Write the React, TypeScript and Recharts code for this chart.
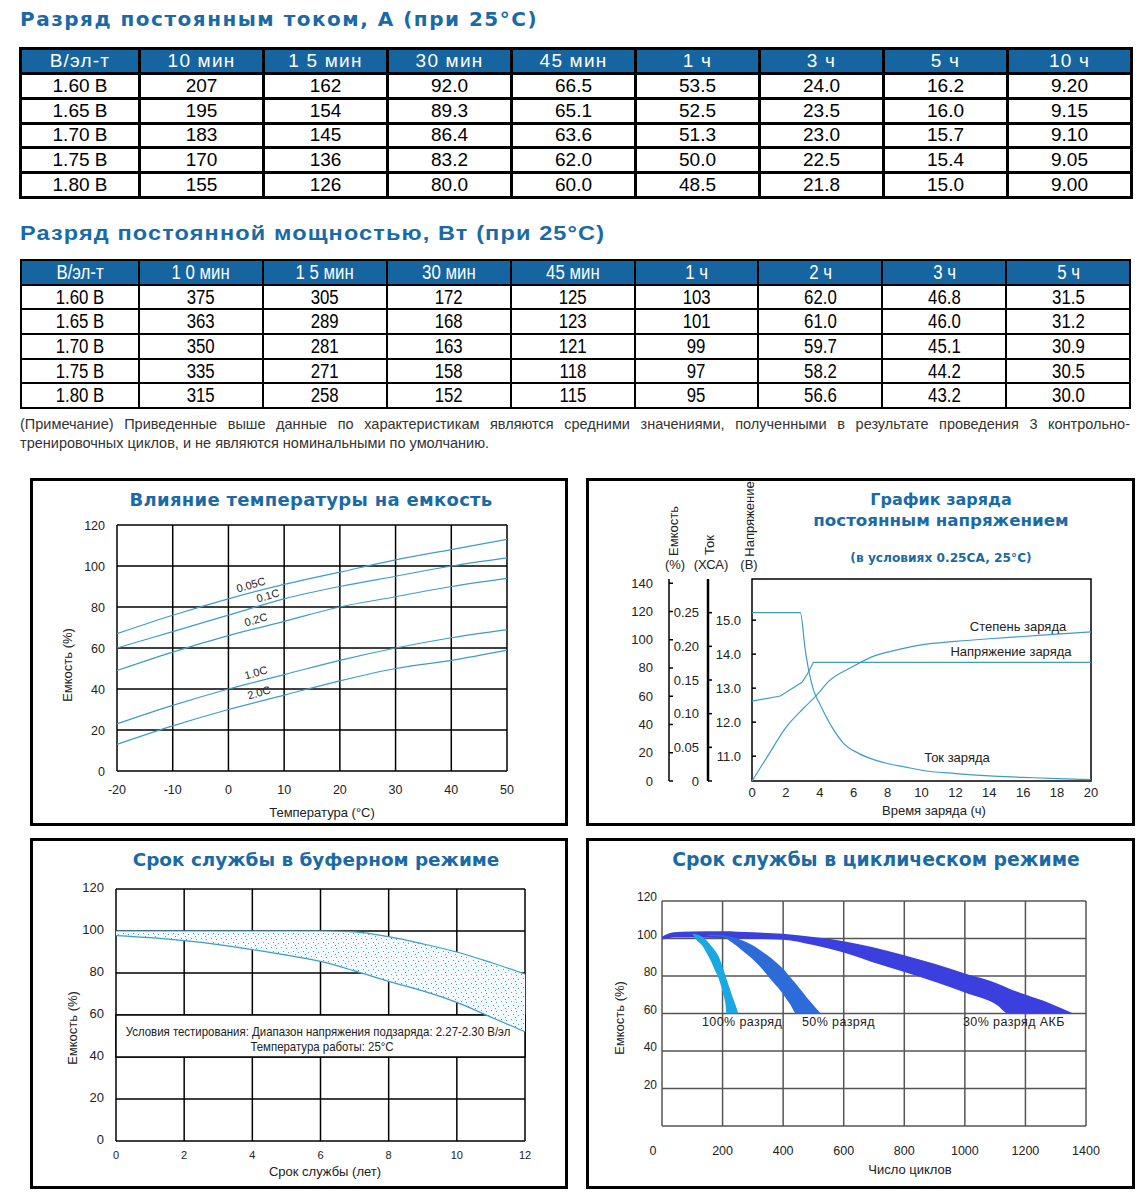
import React from "react";
import {
	Area,
	CartesianGrid,
	ComposedChart,
	Line,
	LineChart,
	ReferenceArea,
	XAxis,
	YAxis,
} from "recharts";

const BLUE = "#1a6aa6";
const HEAD = "#1664a0";
const CURVE = "#3d9dc8";
const SANS = '"Liberation Sans", Arial, sans-serif';
const WIDE = '"DejaVu Sans", sans-serif';

// ---- tables ----
const currentHead = ["В/эл-т", "10 мин", "1 5 мин", "30 мин", "45 мин", "1 ч", "3 ч", "5 ч", "10 ч"];
const powerHead = ["В/эл-т", "1 0 мин", "1 5 мин", "30 мин", "45 мин", "1 ч", "2 ч", "3 ч", "5 ч"];
const cellVolts = ["1.60 В", "1.65 В", "1.70 В", "1.75 В", "1.80 В"];
const currentRows = [
	["207", "162", "92.0", "66.5", "53.5", "24.0", "16.2", "9.20"],
	["195", "154", "89.3", "65.1", "52.5", "23.5", "16.0", "9.15"],
	["183", "145", "86.4", "63.6", "51.3", "23.0", "15.7", "9.10"],
	["170", "136", "83.2", "62.0", "50.0", "22.5", "15.4", "9.05"],
	["155", "126", "80.0", "60.0", "48.5", "21.8", "15.0", "9.00"],
];
const powerRows = [
	["375", "305", "172", "125", "103", "62.0", "46.8", "31.5"],
	["363", "289", "168", "123", "101", "61.0", "46.0", "31.2"],
	["350", "281", "163", "121", "99", "59.7", "45.1", "30.9"],
	["335", "271", "158", "118", "97", "58.2", "44.2", "30.5"],
	["315", "258", "152", "115", "95", "56.6", "43.2", "30.0"],
];

// ---- chart 1: temperature vs capacity ----
const tempX = [-20, -10, 0, 10, 20, 30, 40, 50];
const cap005 = [67, 76, 84, 91, 97, 103, 108, 113];
const cap01 = [60, 68, 76, 84, 90, 95, 100, 104];
const cap02 = [49, 58, 66, 73, 80, 85, 90, 94];
const cap10 = [23, 32, 40, 47, 54, 60, 65, 69];
const cap20 = [13, 22, 30, 37, 44, 50, 54, 59];
const capTicks = [0, 20, 40, 60, 80, 100, 120];

// ---- chart 2: constant voltage charge ----
const hourTicks = [0, 2, 4, 6, 8, 10, 12, 14, 16, 18, 20];
const curT = [0, 2.85, 3.14, 3.34, 3.63, 4.03, 4.72, 5.4, 6.29, 7.27, 8, 9, 10, 12, 14, 16, 18, 20];
const curA = [0.25, 0.25, 0.195, 0.165, 0.135, 0.113, 0.08, 0.056, 0.041, 0.031, 0.026, 0.021, 0.016, 0.011, 0.0075, 0.0055, 0.0035, 0.002];
const voltT = [0, 1.67, 2.95, 3.25, 3.63, 20];
const voltV = [12.62, 12.77, 13.17, 13.4, 13.76, 13.76];
const socT = [0, 1, 1.96, 3.04, 3.83, 4.52, 5.9, 7.27, 8, 10, 12, 14, 16, 18, 20];
const socC = [0, 19, 37.3, 51.5, 61, 70.5, 80.7, 88.8, 91.2, 96.4, 98.8, 100.7, 102.3, 104, 105.5];
const socTicks = [0, 20, 40, 60, 80, 100, 120, 140];
const ampTicks = [0, 0.05, 0.1, 0.15, 0.2, 0.25];
const voltTicks = [11, 12, 13, 14, 15];

// ---- chart 3: float life ----
const years = [0, 1, 2, 3, 4, 5, 6, 7, 8, 9, 10, 11, 12];
const floatHi = [100, 100, 100, 100, 100, 100, 100, 99.6, 97.3, 93.9, 90, 85, 79.5];
const floatLo = [97.8, 96.8, 95.4, 93.5, 91.1, 88.5, 85.5, 81, 76, 71.5, 66, 59, 52];
const yearTicks = [0, 2, 4, 6, 8, 10, 12];

// ---- chart 4: cycle life ----
const cycleTicks = [0, 200, 400, 600, 800, 1000, 1200, 1400];
const d30X = [0, 40, 100, 200, 300, 400, 500, 600, 693, 800, 900, 1000, 1107, 1143, 1200, 1280, 1358];
const d30Hi = [101, 103.3, 103.8, 103.9, 103.3, 102.5, 100.8, 98.6, 95.5, 91.1, 86.5, 81.3, 76, 73.5, 70.1, 65.5, 60];
const d30Lo = [99.5, 100.5, 100.6, 100.3, 99.9, 99.3, 96.5, 92.5, 87.5, 82.2, 77, 71.2, 64.4, 60, 60, 60, 60];
const d50X = [150, 200, 230, 257, 283, 309, 335, 361, 382, 402, 423, 444, 464, 495, 524];
const d50Hi = [102, 101.8, 100.8, 99.5, 97.8, 95.5, 92.5, 89.5, 86.5, 83.5, 79.5, 75.5, 71.5, 65.3, 60];
const d50Lo = [101.5, 100.8, 98, 94.7, 91.2, 87.5, 83, 77.8, 74, 69.8, 65, 60, 60, 60, 60];
const d100X = [100, 115, 132, 148, 163, 175, 184, 200, 210, 213, 231, 242, 252];
const d100Hi = [102.5, 102.2, 101, 98.8, 96, 93.5, 91.5, 85, 80, 78.5, 69.8, 65, 60];
const d100Lo = [102.5, 99, 96.4, 92, 87.5, 83, 80, 71.5, 64.4, 60, 60, 60, 60];

const tempData = tempX.map((t, i) => ({
	t,
	a: cap005[i],
	b: cap01[i],
	c: cap02[i],
	d: cap10[i],
	e: cap20[i],
}));
const curData = curT.map((t, i) => ({ t, v: curA[i] }));
const voltData = voltT.map((t, i) => ({ t, v: voltV[i] }));
const socData = socT.map((t, i) => ({ t, v: socC[i] }));
const floatData = years.map((y, i) => ({
	y,
	hi: floatHi[i],
	lo: floatLo[i],
	band: [floatLo[i], floatHi[i]],
}));
const band30 = d30X.map((x, i) => ({ x, r: [d30Lo[i], d30Hi[i]] }));
const band50 = d50X.map((x, i) => ({ x, r: [d50Lo[i], d50Hi[i]] }));
const band100 = d100X.map((x, i) => ({ x, r: [d100Lo[i], d100Hi[i]] }));

type TxtProps = {
	x: number;
	y: number;
	children: React.ReactNode;
	size?: number;
	bold?: boolean;
	color?: string;
	rot?: number;
	align?: "center" | "left";
	sx?: number;
	family?: string;
	spacing?: number;
};

const Txt = ({
	x,
	y,
	children,
	size = 13,
	bold = false,
	color = "#222",
	rot = 0,
	align = "center",
	sx = 1,
	family = SANS,
	spacing = 0,
}: TxtProps) => (
	<div
		style={{
			position: "absolute",
			left: x,
			top: y,
			transform: `translate(${align === "center" ? "-50%" : "0"},-50%) rotate(${rot}deg) scaleX(${sx})`,
			transformOrigin: align === "center" ? "50% 50%" : "0 50%",
			whiteSpace: "nowrap",
			fontSize: size,
			fontWeight: bold ? 700 : 400,
			color,
			fontFamily: family,
			lineHeight: 1,
			letterSpacing: spacing,
		}}
	>
		{children}
	</div>
);

const DataTable = ({
	left,
	top,
	width,
	height,
	head,
	rows,
	border,
	narrow,
}: {
	left: number;
	top: number;
	width: number;
	height: number;
	head: string[];
	rows: string[][];
	border: number;
	narrow: boolean;
}) => {
	const cell = (bg: string, color: string): React.CSSProperties => ({
		background: bg,
		color,
		display: "flex",
		alignItems: "center",
		justifyContent: "center",
		fontSize: narrow ? 20 : 19,
		overflow: "hidden",
	});
	const inner = (s: string, spacing = 0) => (
		<span
			style={{
				display: "inline-block",
				transform: narrow ? "scaleX(0.84)" : undefined,
				letterSpacing: spacing,
				whiteSpace: "nowrap",
			}}
		>
			{s}
		</span>
	);
	return (
		<div
			style={{
				position: "absolute",
				left,
				top,
				width,
				height,
				boxSizing: "border-box",
				background: "#000",
				padding: border,
				display: "grid",
				gap: border,
				gridTemplateColumns: "116px repeat(8, 1fr)",
				gridTemplateRows: "repeat(6, 1fr)",
				fontFamily: SANS,
			}}
		>
			{head.map((h) => (
				<div key={h} style={cell(HEAD, "#fff")}>
					{inner(h, narrow ? 0 : 1.2)}
				</div>
			))}
			{rows.map((r, i) => [
				<div key={`v${i}`} style={cell("#fff", "#000")}>
					{inner(cellVolts[i])}
				</div>,
				...r.map((c, j) => (
					<div key={`${i}-${j}`} style={cell("#fff", "#000")}>
						{inner(c)}
					</div>
				)),
			])}
		</div>
	);
};

// tick drawn centred on the position recharts gives it
const makeTick =
	(opts: {
		size: number;
		anchor: "end" | "middle";
		dy?: number;
		fmt?: (v: number) => string;
		zeroDx?: number;
	}) =>
	// biome-ignore lint/suspicious/noExplicitAny: <tick props>
	(props: any) => {
		const { x, y, payload } = props;
		const v = payload.value as number;
		const dx = v === 0 && opts.zeroDx ? opts.zeroDx : 0;
		return (
			<text
				x={x + dx}
				y={y + (opts.dy ?? 0)}
				textAnchor={opts.anchor}
				dominantBaseline="central"
				fontSize={opts.size}
				fill="#222"
			>
				{opts.fmt ? opts.fmt(v) : v}
			</text>
		);
	};

const Panel = ({ left, top, width, height }: { left: number; top: number; width: number; height: number }) => (
	<div
		style={{
			position: "absolute",
			left,
			top,
			width,
			height,
			boxSizing: "border-box",
			border: "3px solid #000",
		}}
	/>
);

const TempChart = () => (
	<div style={{ position: "absolute", left: 30, top: 478 }}>
		<LineChart width={538} height={348} data={tempData} margin={{ top: 47, right: 61, bottom: 25, left: 47 }}>
			<CartesianGrid stroke="#000" strokeWidth={1.5} />
			<XAxis
				dataKey="t"
				type="number"
				domain={[-20, 50]}
				ticks={tempX}
				interval={0}
				height={30}
				tickSize={0}
				tickMargin={19}
				axisLine={false}
				tick={makeTick({ size: 12.5, anchor: "middle" })}
			/>
			<YAxis
				type="number"
				domain={[0, 120]}
				ticks={capTicks}
				interval={0}
				width={40}
				tickSize={0}
				tickMargin={12}
				axisLine={false}
				tick={makeTick({ size: 12.5, anchor: "end", dy: 1 })}
			/>
			{["a", "b", "c", "d", "e"].map((k) => (
				<Line key={k} dataKey={k} type="monotone" stroke={CURVE} strokeWidth={1.2} dot={false} isAnimationActive={false} />
			))}
		</LineChart>
	</div>
);

const V_MIN = 10.27;
const V_MAX = 16.21;

// axis ids sort so that the voltage axis sits next to the plot, capacity furthest out
const ChargeChart = () => (
	<div style={{ position: "absolute", left: 586, top: 478 }}>
		<ComposedChart width={549} height={348} margin={{ top: 101, right: 44, bottom: 20, left: 38 }}>
			<XAxis
				dataKey="t"
				type="number"
				domain={[0, 20]}
				ticks={hourTicks}
				interval={0}
				height={25}
				tickSize={0}
				tickMargin={11}
				axisLine={false}
				tick={makeTick({ size: 13, anchor: "middle" })}
			/>
			<YAxis
				yAxisId="a_volt"
				type="number"
				domain={[V_MIN, V_MAX]}
				allowDataOverflow
				ticks={voltTicks}
				interval={0}
				width={44}
				tickSize={-4}
				tickMargin={15}
				axisLine={false}
				tickLine={{ stroke: "#000", strokeWidth: 1.5 }}
				tick={makeTick({ size: 13, anchor: "end", fmt: (v) => v.toFixed(1) })}
			/>
			<YAxis
				yAxisId="b_amp"
				type="number"
				domain={[0, 0.3]}
				allowDataOverflow
				ticks={ampTicks}
				interval={0}
				width={39}
				tickSize={-4}
				tickMargin={13}
				axisLine={{ stroke: "#000", strokeWidth: 2.5 }}
				tickLine={{ stroke: "#000", strokeWidth: 1.5 }}
				tick={makeTick({ size: 13, anchor: "end", fmt: (v) => (v === 0 ? "0" : v.toFixed(2)) })}
			/>
			<YAxis
				yAxisId="c_soc"
				type="number"
				domain={[0, 143]}
				allowDataOverflow
				ticks={socTicks}
				interval={0}
				width={45}
				tickSize={-4}
				tickMargin={20}
				axisLine={{ stroke: "#000", strokeWidth: 1.5 }}
				tickLine={{ stroke: "#000", strokeWidth: 1.5 }}
				tick={makeTick({ size: 13, anchor: "end" })}
			/>
			<ReferenceArea
				yAxisId="a_volt"
				x1={0}
				x2={20}
				y1={V_MIN}
				y2={V_MAX}
				fill="#fff"
				fillOpacity={0}
				stroke="#000"
				strokeWidth={1.5}
			/>
			<Line yAxisId="c_soc" data={socData} dataKey="v" type="monotone" stroke={CURVE} strokeWidth={1.2} dot={false} isAnimationActive={false} />
			<Line yAxisId="b_amp" data={curData} dataKey="v" type="monotone" stroke={CURVE} strokeWidth={1.2} dot={false} isAnimationActive={false} />
			<Line yAxisId="a_volt" data={voltData} dataKey="v" type="linear" stroke={CURVE} strokeWidth={1.2} dot={false} isAnimationActive={false} />
		</ComposedChart>
	</div>
);

const FloatChart = () => (
	<div style={{ position: "absolute", left: 30, top: 838 }}>
		<ComposedChart width={538} height={351} margin={{ top: 51, right: 43, bottom: 23, left: 46 }}>
			<defs>
				<pattern id="stip" width="10" height="9" patternUnits="userSpaceOnUse">
					<rect width="10" height="9" fill="#f4fafd" />
					<rect x="1" y="1" width="1" height="1" fill="#4aa0cc" />
					<rect x="6" y="2" width="1" height="1" fill="#4aa0cc" />
					<rect x="3" y="5" width="1" height="1" fill="#4aa0cc" />
					<rect x="8" y="6" width="1" height="1" fill="#4aa0cc" />
					<rect x="5" y="8" width="1" height="1" fill="#4aa0cc" />
				</pattern>
			</defs>
			<CartesianGrid stroke="#000" strokeWidth={1.5} />
			<XAxis
				dataKey="y"
				type="number"
				domain={[0, 12]}
				ticks={yearTicks}
				interval={0}
				height={25}
				tickSize={0}
				tickMargin={14}
				axisLine={false}
				tick={makeTick({ size: 11, anchor: "middle" })}
			/>
			<YAxis
				type="number"
				domain={[0, 120]}
				ticks={capTicks}
				interval={0}
				width={40}
				tickSize={0}
				tickMargin={12}
				axisLine={false}
				tick={makeTick({ size: 13, anchor: "end", dy: -2 })}
			/>
			<ReferenceArea x1={0} x2={12} y1={40} y2={60} fill="#fff" fillOpacity={1} stroke="#000" strokeWidth={1.5} />
			<Area data={floatData} dataKey="band" type="monotone" fill="url(#stip)" fillOpacity={1} stroke="none" isAnimationActive={false} />
			<Line data={floatData} dataKey="hi" type="monotone" stroke={CURVE} strokeWidth={1.2} dot={false} isAnimationActive={false} />
			<Line data={floatData} dataKey="lo" type="monotone" stroke={CURVE} strokeWidth={1.2} dot={false} isAnimationActive={false} />
		</ComposedChart>
	</div>
);

const CycleChart = () => (
	<div style={{ position: "absolute", left: 586, top: 838 }}>
		<ComposedChart width={549} height={351} margin={{ top: 63, right: 49, bottom: 33, left: 46 }}>
			<CartesianGrid stroke="#555" strokeWidth={1.5} />
			<XAxis
				dataKey="x"
				type="number"
				domain={[0, 1400]}
				ticks={cycleTicks}
				interval={0}
				height={30}
				tickSize={0}
				tickMargin={25}
				axisLine={false}
				tick={makeTick({ size: 12.5, anchor: "middle", zeroDx: -9 })}
			/>
			<YAxis
				type="number"
				domain={[0, 120]}
				ticks={capTicks}
				interval={0}
				width={30}
				tickSize={0}
				tickMargin={5}
				axisLine={false}
				tick={makeTick({ size: 12, anchor: "end", dy: -4, fmt: (v) => (v === 0 ? "" : String(v)) })}
			/>
			<Area data={band30} dataKey="r" type="monotone" fill="#3b3fdd" fillOpacity={1} stroke="none" isAnimationActive={false} />
			<Area data={band50} dataKey="r" type="monotone" fill="#2d6bd8" fillOpacity={1} stroke="none" isAnimationActive={false} />
			<Area data={band100} dataKey="r" type="monotone" fill="#1ba7e1" fillOpacity={1} stroke="none" isAnimationActive={false} />
		</ComposedChart>
	</div>
);

export default function App() {
	return (
		<div
			style={{
				position: "absolute",
				left: 0,
				top: 0,
				width: 1138,
				height: 1199,
				background: "#fff",
				fontFamily: SANS,
				overflow: "hidden",
			}}
		>
			<Txt x={20} y={19} size={20} bold color={BLUE} family={WIDE} align="left" spacing={1.5}>
				Разряд постоянным током, А (при 25°C)
			</Txt>
			<DataTable left={19} top={47} width={1114} height={152} head={currentHead} rows={currentRows} border={3} narrow={false} />

			<Txt x={20} y={232} size={21} bold color={BLUE} align="left" sx={1.12} spacing={1}>
				Разряд постоянной мощностью, Вт (при 25°C)
			</Txt>
			<DataTable left={20} top={259} width={1111} height={150} head={powerHead} rows={powerRows} border={2} narrow />

			<div
				style={{
					position: "absolute",
					left: 20,
					top: 415,
					width: 1110,
					fontSize: 14.5,
					lineHeight: "18px",
					color: "#333",
					textAlign: "justify",
					textAlignLast: "justify",
				}}
			>
				(Примечание) Приведенные выше данные по характеристикам являются средними значениями, полученными в результате
				проведения 3 контрольно-
			</div>
			<div style={{ position: "absolute", left: 20, top: 434, fontSize: 14.5, lineHeight: "18px", color: "#333", whiteSpace: "nowrap" }}>
				тренировочных циклов, и не являются номинальными по умолчанию.
			</div>

			<Panel left={30} top={478} width={538} height={348} />
			<Panel left={586} top={478} width={549} height={348} />
			<Panel left={30} top={838} width={538} height={351} />
			<Panel left={586} top={838} width={549} height={351} />

			<TempChart />
			<ChargeChart />
			<FloatChart />
			<CycleChart />

			{/* chart 1 texts */}
			<Txt x={311} y={500} size={18} bold color={BLUE} family={WIDE} spacing={0.3}>
				Влияние температуры на емкость
			</Txt>
			<Txt x={322} y={812} size={13}>
				Температура (°C)
			</Txt>
			<Txt x={67} y={665} size={13} rot={-90}>
				Емкость (%)
			</Txt>
			<Txt x={251} y={585} size={11} rot={-16}>
				0.05C
			</Txt>
			<Txt x={268} y={596} size={11} rot={-16}>
				0.1C
			</Txt>
			<Txt x={256} y={620} size={11} rot={-16}>
				0.2C
			</Txt>
			<Txt x={256} y={673} size={11} rot={-16}>
				1.0C
			</Txt>
			<Txt x={259} y={693} size={11} rot={-16}>
				2.0C
			</Txt>

			{/* chart 2 texts */}
			<Txt x={941} y={500} size={16} bold color={BLUE} family={WIDE}>
				График заряда
			</Txt>
			<Txt x={941} y={520} size={16.7} bold color={BLUE} family={WIDE}>
				постоянным напряжением
			</Txt>
			<Txt x={941} y={558} size={12.2} bold color={BLUE} family={WIDE}>
				(в условиях 0.25CA, 25°C)
			</Txt>
			<Txt x={673} y={531} size={13} rot={-90}>
				Емкость
			</Txt>
			<Txt x={675} y={564} size={13}>
				(%)
			</Txt>
			<Txt x={709} y={545} size={13} rot={-90}>
				Ток
			</Txt>
			<Txt x={711} y={564} size={13}>
				(ХСА)
			</Txt>
			<Txt x={749} y={519} size={13} rot={-90}>
				Напряжение
			</Txt>
			<Txt x={749} y={564} size={13}>
				(В)
			</Txt>
			<Txt x={1018} y={626} size={13}>
				Степень заряда
			</Txt>
			<Txt x={1011} y={651} size={13}>
				Напряжение заряда
			</Txt>
			<Txt x={957} y={757} size={13}>
				Ток заряда
			</Txt>
			<Txt x={934} y={810} size={13}>
				Время заряда (ч)
			</Txt>

			{/* chart 3 texts */}
			<Txt x={316} y={860} size={18.4} bold color={BLUE} family={WIDE}>
				Срок службы в буферном режиме
			</Txt>
			<Txt x={72} y={1028} size={13} rot={-90}>
				Емкость (%)
			</Txt>
			<Txt x={325} y={1171} size={13}>
				Срок службы (лет)
			</Txt>
			<Txt x={318} y={1031} size={13} sx={0.88}>
				Условия тестирования: Диапазон напряжения подзаряда: 2.27-2.30 В/эл
			</Txt>
			<Txt x={322} y={1046} size={13} sx={0.88}>
				Температура работы: 25°C
			</Txt>

			{/* chart 4 texts */}
			<Txt x={876} y={860} size={18.8} bold color={BLUE} family={WIDE}>
				Срок службы в циклическом режиме
			</Txt>
			<Txt x={619} y={1018} size={13} rot={-90}>
				Емкость (%)
			</Txt>
			<Txt x={910} y={1169} size={13}>
				Число циклов
			</Txt>
			<Txt x={702} y={1022} size={12.5} align="left" spacing={0.4}>
				100% разряд
			</Txt>
			<Txt x={802} y={1022} size={12.5} align="left" spacing={0.4}>
				50% разряд
			</Txt>
			<Txt x={963} y={1022} size={12.5} align="left" spacing={0.4}>
				30% разряд АКБ
			</Txt>
		</div>
	);
}
